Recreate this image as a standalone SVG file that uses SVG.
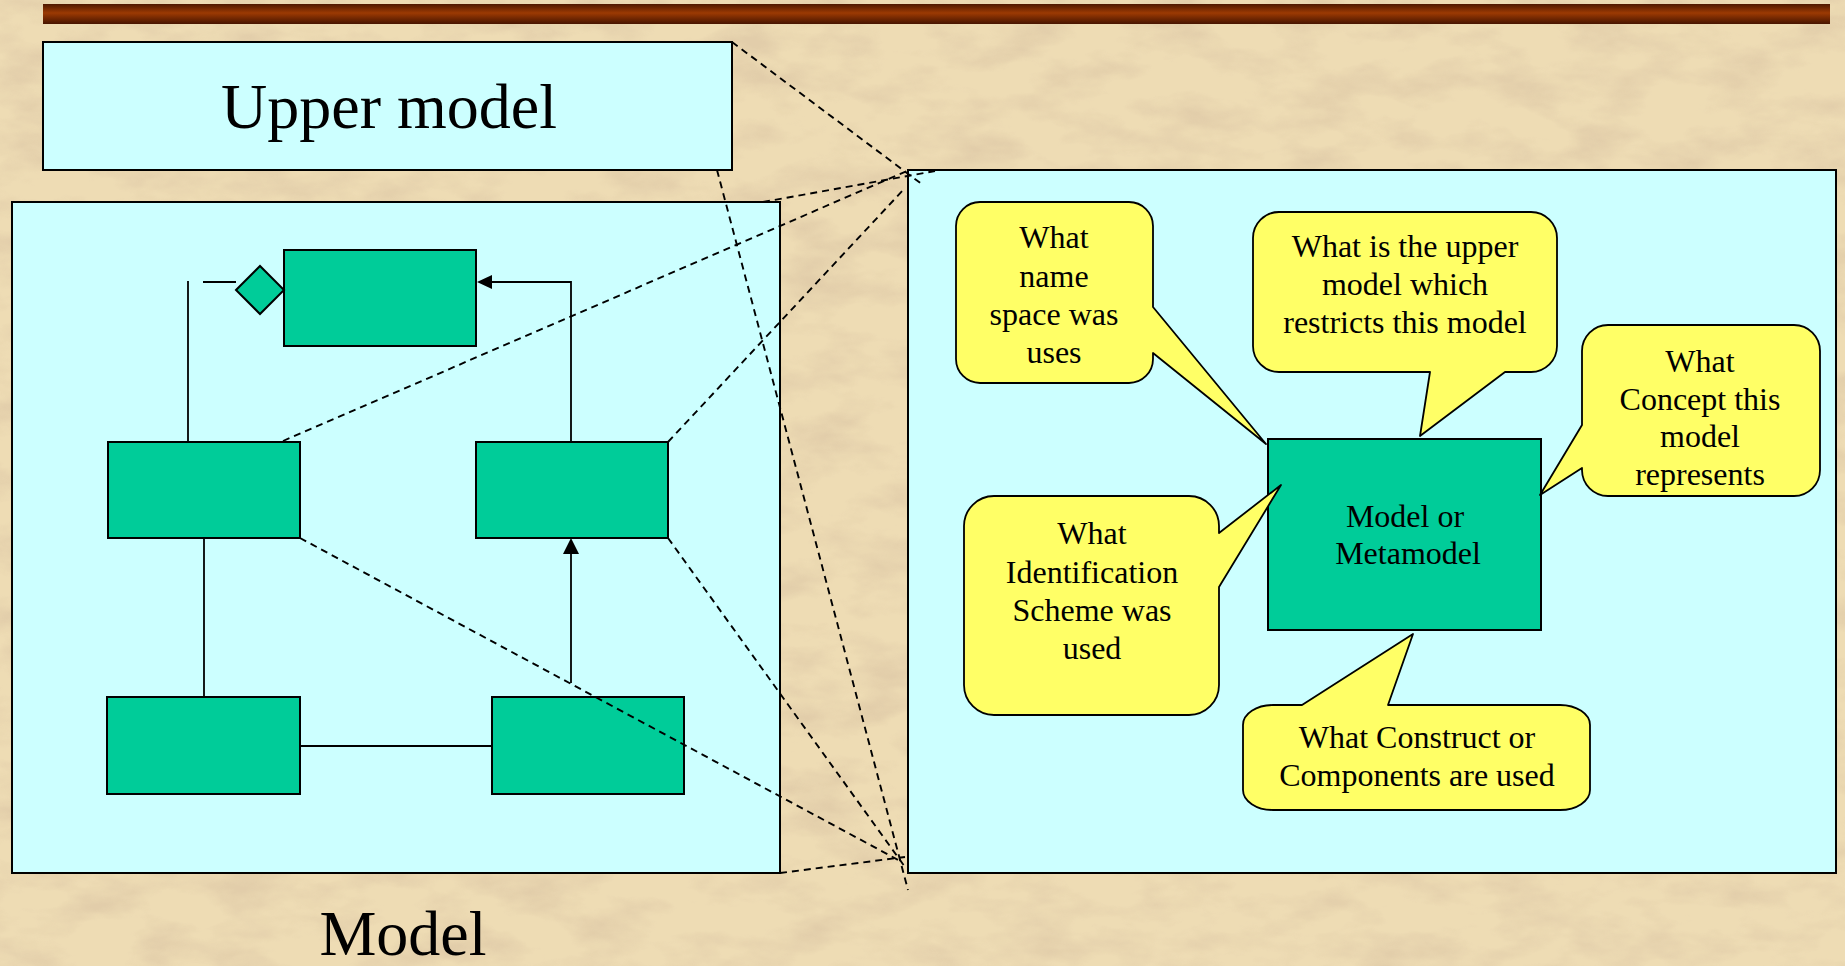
<svg xmlns="http://www.w3.org/2000/svg" width="1845" height="966" viewBox="0 0 1845 966">
  <defs>
    <linearGradient id="barGrad" x1="0" y1="0" x2="0" y2="1">
      <stop offset="0" stop-color="#4e1800"/>
      <stop offset="0.45" stop-color="#9c3a03"/>
      <stop offset="1" stop-color="#471400"/>
    </linearGradient>
    <filter id="parchment" x="0" y="0" width="1845" height="966" filterUnits="userSpaceOnUse">
      <feTurbulence type="fractalNoise" baseFrequency="0.014 0.03" numOctaves="4" seed="7" result="noise"/>
      <feColorMatrix in="noise" type="matrix" values="0 0 0 0 0.72  0 0 0 0 0.57  0 0 0 0 0.38  2.4 0 0 0 -1.0"/>
    </filter>
    <style>
      .panel { fill: #ccffff; stroke: #000; stroke-width: 2; }
      .cls { fill: #00cc99; stroke: #000; stroke-width: 2; }
      .link { fill: none; stroke: #000; stroke-width: 1.8; }
      .head { fill: #000; }
      .proj { fill: none; stroke: #000; stroke-width: 1.9; stroke-dasharray: 7 5; }
      .callout { fill: #ffff66; stroke: #000; stroke-width: 1.8; stroke-linejoin: round; }
      .title { font-family: "Liberation Serif", "Times New Roman", serif; font-size: 64px; fill: #000; text-anchor: middle; }
      .label { font-family: "Liberation Serif", "Times New Roman", serif; font-size: 32px; fill: #000; text-anchor: middle; }
    </style>
  </defs>

  <!-- parchment background -->
  <rect x="0" y="0" width="1845" height="966" fill="#eedcb4"/>
  <rect x="0" y="0" width="1845" height="966" filter="url(#parchment)" opacity="0.7"/>

  <!-- title bar -->
  <rect x="43" y="4" width="1787" height="20" fill="url(#barGrad)"/>

  <!-- upper model box -->
  <g id="upper-model">
    <rect class="panel" x="43" y="42" width="689" height="128"/>
    <text class="title" x="389" y="128">Upper model</text>
  </g>

  <!-- model panel with its class diagram -->
  <g id="model">
    <rect class="panel" x="12" y="202" width="768" height="671"/>
    <text class="title" x="403" y="955">Model</text>
  </g>
  <g id="model-top-class">
    <rect class="cls" x="284" y="250" width="192" height="96"/>
    <polygon class="cls" points="236,290 260,266 284,290 260,314"/>
  </g>
  <g id="model-left-class">
    <rect class="cls" x="108" y="442" width="192" height="96"/>
  </g>
  <g id="model-right-class">
    <rect class="cls" x="476" y="442" width="192" height="96"/>
  </g>
  <g id="model-bottom-left-class">
    <rect class="cls" x="107" y="697" width="193" height="97"/>
  </g>
  <g id="model-bottom-right-class">
    <rect class="cls" x="492" y="697" width="192" height="97"/>
  </g>

  <!-- detail panel -->
  <g id="detail">
    <rect class="panel" x="908" y="170" width="928" height="703"/>
  </g>
  <g id="detail-center">
    <rect class="cls" x="1268" y="439" width="273" height="191"/>
    <text class="label" x="1405" y="527">Model or</text>
    <text class="label" x="1408" y="564">Metamodel</text>
  </g>

  <g id="callout-namespace">
    <path class="callout" d="M980 202 H1129 A24 24 0 0 1 1153 226 V307 L1266 444 L1153 353 V359 A24 24 0 0 1 1129 383 H980 A24 24 0 0 1 956 359 V226 A24 24 0 0 1 980 202 Z"/>
    <text class="label" x="1054" y="248">What</text>
    <text class="label" x="1054" y="287">name</text>
    <text class="label" x="1054" y="325">space was</text>
    <text class="label" x="1054" y="363">uses</text>
  </g>

  <g id="callout-upper">
    <path class="callout" d="M1279 212 H1531 A26 26 0 0 1 1557 238 V346 A26 26 0 0 1 1531 372 H1505 L1420 436 L1430 372 H1279 A26 26 0 0 1 1253 346 V238 A26 26 0 0 1 1279 212 Z"/>
    <text class="label" x="1405" y="257">What is the upper</text>
    <text class="label" x="1405" y="295">model which</text>
    <text class="label" x="1405" y="333">restricts this model</text>
  </g>

  <g id="callout-concept">
    <path class="callout" d="M1608 325 H1794 A26 26 0 0 1 1820 351 V470 A26 26 0 0 1 1794 496 H1608 A26 26 0 0 1 1582 470 V468 L1540 495 L1582 425 V351 A26 26 0 0 1 1608 325 Z"/>
    <text class="label" x="1700" y="372">What</text>
    <text class="label" x="1700" y="410">Concept this</text>
    <text class="label" x="1700" y="447">model</text>
    <text class="label" x="1700" y="485">represents</text>
  </g>

  <g id="callout-identification">
    <path class="callout" d="M994 496 H1189 A30 30 0 0 1 1219 526 V533 L1281 485 L1219 587 V685 A30 30 0 0 1 1189 715 H994 A30 30 0 0 1 964 685 V526 A30 30 0 0 1 994 496 Z"/>
    <text class="label" x="1092" y="544">What</text>
    <text class="label" x="1092" y="583">Identification</text>
    <text class="label" x="1092" y="621">Scheme was</text>
    <text class="label" x="1092" y="659">used</text>
  </g>

  <g id="callout-construct">
    <path class="callout" d="M1273 705 H1302 L1413 634 L1388 705 H1560 A30 20 0 0 1 1590 725 V790 A30 20 0 0 1 1560 810 H1273 A30 20 0 0 1 1243 790 V725 A30 20 0 0 1 1273 705 Z"/>
    <text class="label" x="1417" y="748">What Construct or</text>
    <text class="label" x="1417" y="786">Components are used</text>
  </g>

  <!-- connectors: class links and projection lines -->
  <g id="connectors">
    <line class="link" x1="188" y1="281" x2="188" y2="442"/>
    <line class="link" x1="203" y1="282" x2="236" y2="282"/>
    <path class="link" d="M571 442 V282 H490"/>
    <polygon class="head" points="477,282 492,275 492,289"/>
    <line class="link" x1="204" y1="538" x2="204" y2="697"/>
    <line class="link" x1="571" y1="683" x2="571" y2="552"/>
    <polygon class="head" points="571,538 563,554 579,554"/>
    <line class="link" x1="300" y1="746" x2="492" y2="746"/>

    <line class="proj" x1="732" y1="42" x2="923" y2="185"/>
    <line class="proj" x1="717" y1="170" x2="908" y2="890"/>
    <line class="proj" x1="763" y1="202" x2="935" y2="171"/>
    <line class="proj" x1="283" y1="441" x2="907" y2="171"/>
    <line class="proj" x1="668" y1="442" x2="905" y2="188"/>
    <line class="proj" x1="300" y1="538" x2="902" y2="862"/>
    <line class="proj" x1="668" y1="538" x2="905" y2="867"/>
    <line class="proj" x1="780" y1="873" x2="905" y2="857"/>
  </g>
</svg>
